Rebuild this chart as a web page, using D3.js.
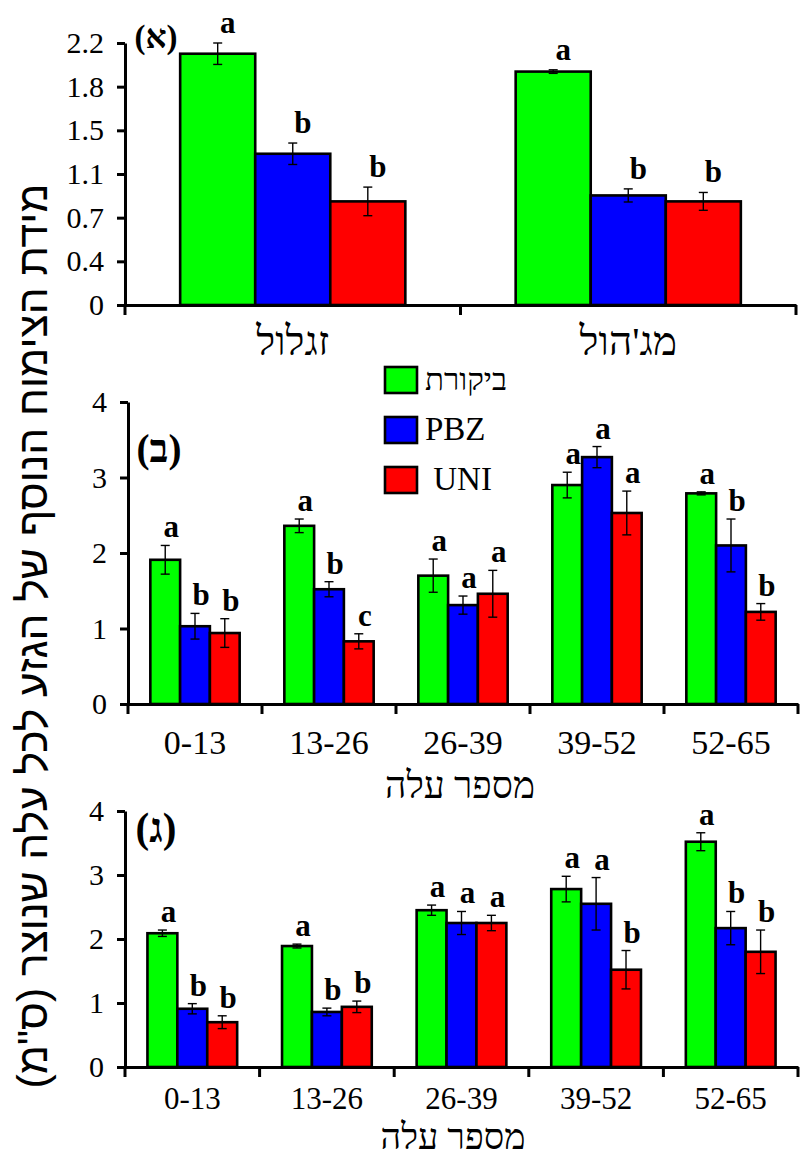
<!DOCTYPE html>
<html><head><meta charset="utf-8">
<script src="https://cdn.jsdelivr.net/npm/d3@7"></script>
<style>body{margin:0;background:#fff} svg{display:block}</style>
</head><body>
<svg id="c" width="802" height="1157"></svg>
<script>
// ---------- DATA ----------
const series = ["control", "PBZ", "UNI"];
const seriesColors = ["#00ff00", "#0000ff", "#ff0000"];
const legendLabels = ["ביקורת", "PBZ", " UNI"];

// Panel A (א)
const catsA = ["זגלול", "מג'הול"];
const valsA = [[2.11, 1.27, 0.87], [1.96, 0.92, 0.87]];
const errA  = [[0.09, 0.09, 0.12], [0.015, 0.055, 0.075]];
const letA  = [["a", "b", "b"], ["a", "b", "b"]];
const tickLabelsA = ["0", "0.4", "0.7", "1.1", "1.5", "1.8", "2.2"];
const maxA = 2.2;

// Panel B (ב)
const catsLeaf = ["0-13", "13-26", "26-39", "39-52", "52-65"];
const valsB = [[1.91, 1.03, 0.94], [2.36, 1.52, 0.83], [1.70, 1.31, 1.46], [2.90, 3.27, 2.53], [2.79, 2.10, 1.22]];
const errB  = [[0.19, 0.17, 0.19], [0.09, 0.10, 0.10], [0.22, 0.12, 0.31], [0.17, 0.14, 0.29], [0.02, 0.35, 0.11]];
const letB  = [["a", "b", "b"], ["a", "b", "c"], ["a", "a", "a"], ["a", "a", "a"], ["a", "b", "b"]];

// Panel C (ג)
const valsC = [[2.09, 0.91, 0.70], [1.89, 0.86, 0.94], [2.45, 2.25, 2.25], [2.78, 2.55, 1.52], [3.52, 2.17, 1.80]];
const errC  = [[0.05, 0.08, 0.10], [0.03, 0.06, 0.09], [0.08, 0.18, 0.12], [0.20, 0.41, 0.30], [0.14, 0.26, 0.34]];
const letC  = [["a", "b", "b"], ["a", "b", "b"], ["a", "a", "a"], ["a", "a", "b"], ["a", "b", "b"]];
const tickLabelsBC = ["0", "1", "2", "3", "4"];
const maxBC = 4;

const panelTags = ["(א)", "(ב)", "(ג)"];
const yTitle = "מידת הצימוח הנוסף של הגזע לכל עלה שנוצר (ס\"מ)";
const xTitle = "מספר עלה";

// ---------- DRAW ----------
const svg = d3.select("#c");
const SERIF = "'Liberation Serif','Times New Roman','DejaVu Serif',serif";
const SANS = "'Liberation Sans',Arial,'DejaVu Sans',sans-serif";

function fitWidth(sel, target, base) {
  sel.attr("font-size", base);
  const w = sel.node().getComputedTextLength();
  const fs = base * target / w;
  sel.attr("font-size", fs);
  return fs;
}

function drawPanel(cfg) {
  const g = svg.append("g");
  const y = d3.scaleLinear().domain([0, cfg.max]).range([cfg.bottom, cfg.top]);
  const x0 = d3.scaleBand().domain(cfg.cats).range([cfg.left, cfg.right]).padding(0);
  const x1 = d3.scaleBand().domain(series).range([0, x0.bandwidth()])
    .paddingInner(0).paddingOuter(cfg.pad);

  // bars
  cfg.cats.forEach((c, i) => {
    const grp = g.append("g").attr("transform", `translate(${x0(c)},0)`);
    series.forEach((s, j) => {
      const v = cfg.vals[i][j], e = cfg.errs[i][j];
      grp.append("rect")
        .attr("x", x1(s)).attr("y", y(v))
        .attr("width", x1.bandwidth()).attr("height", y(0) - y(v))
        .attr("fill", seriesColors[j]).attr("stroke", "#000").attr("stroke-width", 2.6);
      const cx = x1(s) + x1.bandwidth() / 2;
      const cap = 4.5;
      const eb = grp.append("g").attr("stroke", "#000").attr("stroke-width", 1.4);
      eb.append("line").attr("x1", cx).attr("x2", cx).attr("y1", y(v + e)).attr("y2", y(v - e));
      eb.append("line").attr("x1", cx - cap).attr("x2", cx + cap).attr("y1", y(v + e)).attr("y2", y(v + e));
      eb.append("line").attr("x1", cx - cap).attr("x2", cx + cap).attr("y1", y(v - e)).attr("y2", y(v - e));
      grp.append("text")
        .attr("x", cx + cfg.ldx).attr("y", y(v + e) - cfg.ldy)
        .attr("text-anchor", "middle")
        .attr("font-family", SERIF).attr("font-weight", "bold").attr("font-size", 31)
        .text(cfg.lets[i][j]);
    });
  });

  // y axis
  const ya = g.append("g").attr("transform", `translate(${cfg.left},0)`)
    .call(d3.axisLeft(y).tickValues(cfg.tickVals).tickFormat((d, i) => cfg.tickLabels[i])
      .tickSize(8).tickSizeOuter(0).tickPadding(13));
  ya.select(".domain").attr("stroke", "#000").attr("stroke-width", 3);
  ya.selectAll(".tick line").attr("stroke", "#000").attr("stroke-width", 3);
  ya.selectAll("text").attr("font-family", SERIF).attr("font-size", 30).attr("fill", "#000");

  // x axis
  const xa = g.append("g").attr("transform", `translate(0,${cfg.bottom})`)
    .call(d3.axisBottom(x0).tickSize(0).tickSizeOuter(0).tickPadding(0));
  xa.select(".domain").attr("stroke", "#000").attr("stroke-width", 3);
  const labs = xa.selectAll("text").attr("dy", null).attr("y", cfg.labelOffset)
    .attr("font-family", SERIF).attr("fill", "#000")
    .attr("direction", "rtl");
  if (cfg.catFit) {
    const fs = fitWidth(d3.select(labs.nodes()[0]), cfg.catFit, 30);
    labs.attr("font-size", fs);
  } else {
    labs.attr("font-size", cfg.catFont);
  }
  const bounds = cfg.cats.map(c => x0(c)).concat([x0(cfg.cats[cfg.cats.length - 1]) + x0.bandwidth()]);
  xa.selectAll(".bnd").data(bounds).enter().append("line")
    .attr("x1", d => d).attr("x2", d => d).attr("y1", 0).attr("y2", 10)
    .attr("stroke", "#000").attr("stroke-width", 3);

  // panel tag
  const t = g.append("text").attr("x", cfg.left + 31).attr("y", cfg.tagY)
    .attr("text-anchor", "middle").attr("font-family", SERIF)
    .attr("font-weight", "bold").text(cfg.tag);
  fitWidth(t, cfg.tagW, 31);
}

drawPanel({
  cats: catsA, vals: valsA, errs: errA, lets: letA, tag: panelTags[0],
  left: 125, right: 796, top: 43, bottom: 305, max: maxA, pad: 0.735,
  tickVals: d3.range(tickLabelsA.length).map(i => i * maxA / (tickLabelsA.length - 1)),
  tickLabels: tickLabelsA, ldx: 10, ldy: 10, labelOffset: 50, catFit: 73, tagY: 48, tagW: 43
});
drawPanel({
  cats: catsLeaf, vals: valsB, errs: errB, lets: letB, tag: panelTags[1],
  left: 128, right: 798, top: 402, bottom: 704, max: maxBC, pad: 0.75,
  tickVals: d3.range(tickLabelsBC.length), tickLabels: tickLabelsBC,
  ldx: 6, ldy: 8, labelOffset: 50, catFont: 34, tagY: 462, tagW: 45
});
drawPanel({
  cats: catsLeaf, vals: valsC, errs: errC, lets: letC, tag: panelTags[2],
  left: 125, right: 798, top: 811, bottom: 1067, max: maxBC, pad: 0.75,
  tickVals: d3.range(tickLabelsBC.length), tickLabels: tickLabelsBC,
  ldx: 6, ldy: 8, labelOffset: 42, catFont: 31, tagY: 842, tagW: 41
});

// legend
const leg = svg.append("g");
series.forEach((s, j) => {
  const yy = 367 + j * 50;
  leg.append("rect").attr("x", 385).attr("y", yy).attr("width", 32).attr("height", 26)
    .attr("fill", seriesColors[j]).attr("stroke", "#000").attr("stroke-width", 2.6);
  const t = leg.append("text").attr("x", 425).attr("y", yy + 23)
    .attr("font-family", SERIF).attr("font-size", 33)
    .style("white-space", "pre").text(legendLabels[j]);
  if (j === 0) fitWidth(t, 82, 30);
});

// x titles
const xt1 = svg.append("text").attr("x", 460).attr("y", 798).attr("text-anchor", "middle")
  .attr("direction", "rtl").attr("font-family", SERIF).text(xTitle);
fitWidth(xt1, 150, 30);
const xt2 = svg.append("text").attr("x", 453).attr("y", 1149).attr("text-anchor", "middle")
  .attr("direction", "rtl").attr("font-family", SERIF).text(xTitle);
fitWidth(xt2, 145, 30);

// y title
const yt = svg.append("text").attr("transform", "translate(47,636) rotate(-90)")
  .attr("text-anchor", "middle").attr("direction", "rtl")
  .attr("font-family", SANS).text(yTitle);
fitWidth(yt, 905, 36);
</script>
</body></html>
